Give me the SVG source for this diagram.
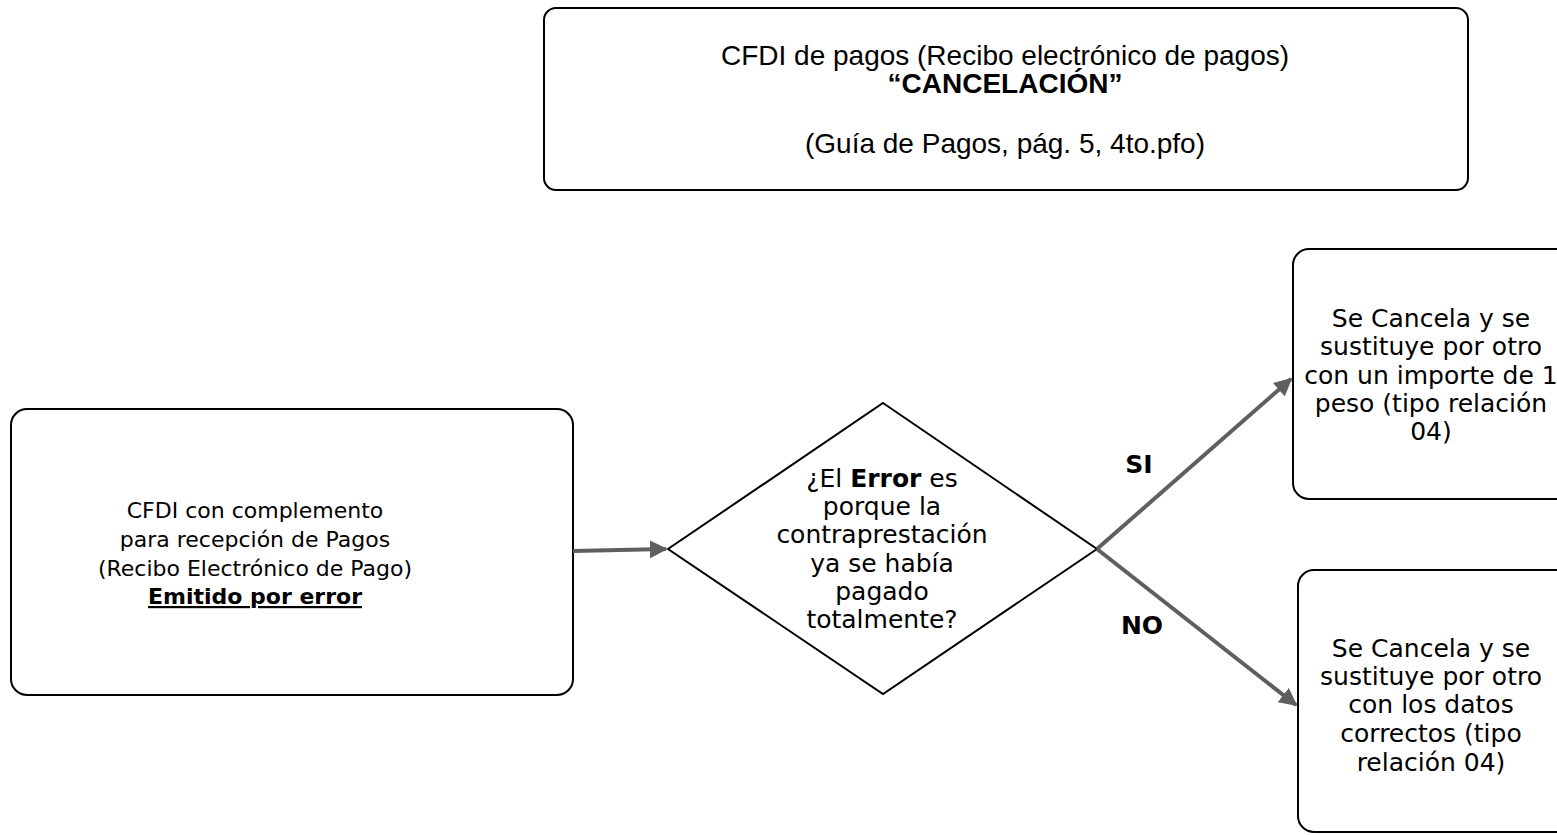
<svg xmlns="http://www.w3.org/2000/svg" width="1557" height="835" viewBox="0 0 1557 835">
<defs>
<style>
.box{fill:#fff;stroke:#000;stroke-width:2}
.t{font-family:"DejaVu Sans","Verdana",sans-serif;font-size:25px;fill:#000;text-anchor:middle}
.s{font-size:22px}
.tc{font-family:"Liberation Sans","Arial",sans-serif;font-size:28px;fill:#000;text-anchor:middle}
.b{font-weight:bold}
.conn{stroke:#5f5f5f;stroke-width:4;fill:none}
</style>
<marker id="ah" viewBox="0 0 10 10" refX="9" refY="5" markerWidth="4.5" markerHeight="4.5" orient="auto" markerUnits="strokeWidth">
<path d="M0,0 L10,5 L0,10 z" fill="#5f5f5f"/>
</marker>
</defs>
<rect width="1557" height="835" fill="#fff"/>
<g id="title">
<rect class="box" x="544" y="8" width="924" height="182" rx="12"/>
<text class="tc" x="1005" y="65">CFDI de pagos (Recibo electrónico de pagos)</text>
<text class="tc b" x="1005" y="93">“CANCELACIÓN”</text>
<text class="tc" x="1005" y="153">(Guía de Pagos, pág. 5, 4to.pfo)</text>
</g>
<g id="start">
<rect class="box" x="11" y="409" width="562" height="286" rx="16"/>
<text class="t s" x="255" y="518">CFDI con complemento</text>
<text class="t s" x="255" y="547">para recepción de Pagos</text>
<text class="t s" x="255" y="576">(Recibo Electrónico de Pago)</text>
<text class="t s b" x="255" y="604" text-decoration="underline">Emitido por error</text>
</g>
<g id="decision">
<polygon class="box" points="883,403 1097,549 883,694 668,549"/>
<text class="t" x="882" y="487">¿El <tspan class="b">Error</tspan> es</text>
<text class="t" x="882" y="515">porque la</text>
<text class="t" x="882" y="543">contraprestación</text>
<text class="t" x="882" y="572">ya se había</text>
<text class="t" x="882" y="600">pagado</text>
<text class="t" x="882" y="628">totalmente?</text>
</g>
<g id="yes-box">
<rect class="box" x="1293" y="249" width="290" height="250" rx="16"/>
<text class="t" x="1431" y="327">Se Cancela y se</text>
<text class="t" x="1431" y="355">sustituye por otro</text>
<text class="t" x="1431" y="384">con un importe de 1</text>
<text class="t" x="1431" y="412">peso (tipo relación</text>
<text class="t" x="1431" y="440">04)</text>
</g>
<g id="no-box">
<rect class="box" x="1298" y="570" width="290" height="262" rx="16"/>
<text class="t" x="1431" y="657">Se Cancela y se</text>
<text class="t" x="1431" y="685">sustituye por otro</text>
<text class="t" x="1431" y="713">con los datos</text>
<text class="t" x="1431" y="742">correctos (tipo</text>
<text class="t" x="1431" y="771">relación 04)</text>
</g>
<g id="connectors">
<line class="conn" x1="573" y1="551" x2="666" y2="549" marker-end="url(#ah)"/>
<line class="conn" x1="1097" y1="549" x2="1291" y2="379" marker-end="url(#ah)"/>
<line class="conn" x1="1097" y1="549" x2="1296" y2="705" marker-end="url(#ah)"/>
<text class="t b" x="1139" y="473">SI</text>
<text class="t b" x="1142" y="634">NO</text>
</g>
</svg>
